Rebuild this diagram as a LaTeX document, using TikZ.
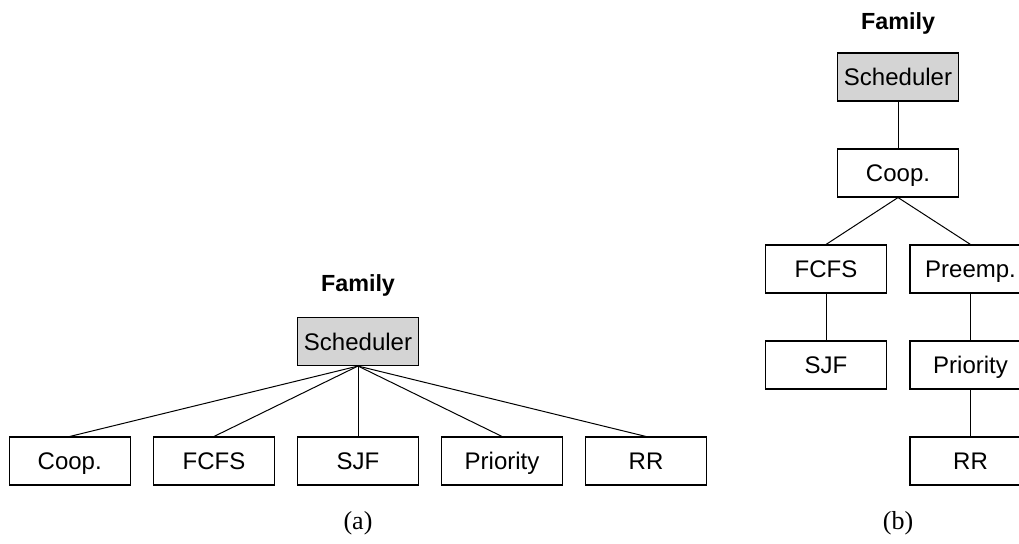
\documentclass[tikz,border=0pt]{standalone}
\usepackage{fontspec}
\setmainfont{Liberation Serif}
\newfontfamily\arialfont{Liberation Sans}
\begin{document}
\begin{tikzpicture}[x=0.75pt,y=-0.75pt,
  box/.style={draw=black,line width=0.8pt,minimum width=90.75pt,minimum height=36pt,inner sep=0pt,text height=12.9pt,text depth=0pt,font=\arialfont\fontsize{18}{20}\selectfont},
  root/.style={box,fill=black!17},
  fam/.style={font=\arialfont\bfseries\fontsize{17.5}{20}\selectfont},
  subcap/.style={font=\fontsize{19.5}{21}\selectfont},
  edge/.style={line width=0.75pt}]
\useasboundingbox (0,0) rectangle (1019,543);
% (a)
\node[fam] (famA) at (358,285) {Family};
\node[root] (schA) at (358,341.5) {Scheduler};
\node[box] (coopA) at (69.7,461) {Coop.};
\node[box] (fcfsA) at (214,461) {FCFS};
\node[box] (sjfA) at (358,461) {SJF};
\node[box] (prioA) at (502,461) {Priority};
\node[box] (rrA) at (646,461) {RR};
\foreach \n in {coopA,fcfsA,sjfA,prioA,rrA} \draw[edge] (schA.south) -- (\n.north);
\node[subcap] (capA) at (358,523) {(a)};
% (b)
\node[fam] (famB) at (898,23) {Family};
\node[root] (schB) at (898,77) {Scheduler};
\node[box] (coopB) at (898,173) {Coop.};
\node[box] (fcfsB) at (826,269) {FCFS};
\node[box] (preB) at (970.5,269) {Preemp.};
\node[box] (sjfB) at (826,365) {SJF};
\node[box] (prioB) at (970.5,365) {Priority};
\node[box] (rrB) at (970.5,461) {RR};
\draw[edge] (schB) -- (coopB);
\draw[edge] (coopB.south) -- (fcfsB.north);
\draw[edge] (coopB.south) -- (preB.north);
\draw[edge] (fcfsB) -- (sjfB);
\draw[edge] (preB) -- (prioB);
\draw[edge] (prioB) -- (rrB);
\node[subcap] (capB) at (898,523) {(b)};
\end{tikzpicture}
\end{document}
